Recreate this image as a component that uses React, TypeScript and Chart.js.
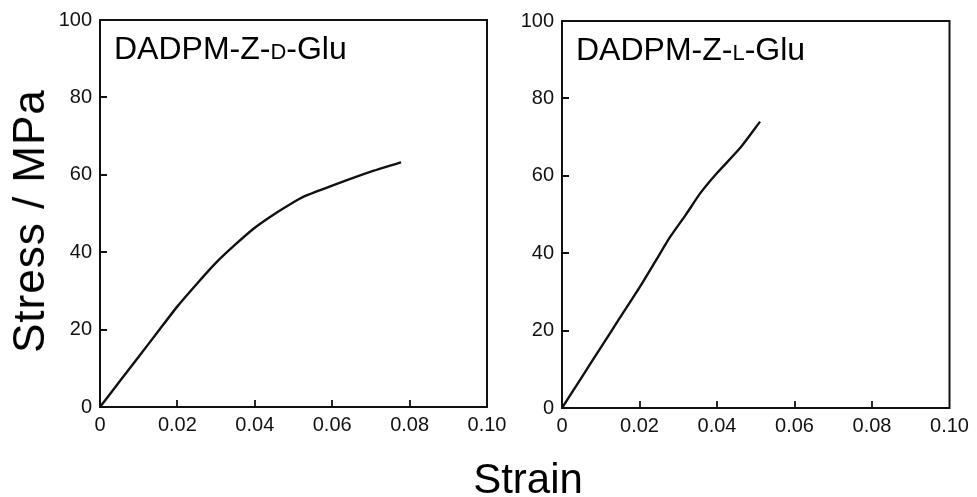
import React, { useEffect, useRef } from 'react';
import { Chart, registerables } from 'chart.js';

Chart.register(...registerables);

// ---- data ----
const strainD = [0, 0.005, 0.01, 0.015, 0.02, 0.025, 0.03, 0.035, 0.04, 0.045, 0.05, 0.0525, 0.06, 0.07, 0.0778];
const stressD = [0, 6.5, 13, 19.5, 26, 31.8, 37.3, 42, 46.3, 49.8, 52.9, 54.3, 57.2, 60.8, 63.2];

const strainL = [0, 0.005, 0.01, 0.015, 0.0201, 0.0244, 0.0279, 0.0322, 0.0356, 0.0399, 0.0459, 0.0511];
const stressL = [0, 7.8, 15.6, 23.4, 31.3, 38.4, 44.2, 50.3, 55.4, 60.6, 67.1, 74.0];

const titleD = ['DADPM-Z-', 'D', '-Glu'];
const titleL = ['DADPM-Z-', 'L', '-Glu'];

const xTicks = [0, 0.02, 0.04, 0.06, 0.08, 0.1];
const xTickLabels = ['0', '0.02', '0.04', '0.06', '0.08', '0.10'];
const yTicks = [0, 20, 40, 60, 80, 100];
const yTickLabels = ['0', '20', '40', '60', '80', '100'];

const yAxisTitle = 'Stress / MPa';
const xAxisTitle = 'Strain';

const FONT = '"Liberation Sans", Arial, Helvetica, sans-serif';

function makeChart(
  canvas: HTMLCanvasElement,
  strain: number[],
  stress: number[],
  title: string[],
  cfg: { top: number; right: number; yWidth: number; xHeight: number }
) {
  const framePlugin = {
    id: 'frameTitle',
    afterDraw(chart: any) {
      const { ctx, chartArea: a, scales } = chart;
      ctx.save();
      ctx.strokeStyle = '#111';
      ctx.lineWidth = 2;
      ctx.strokeRect(a.left, a.top, a.right - a.left, a.bottom - a.top);
      // inward tick marks
      ctx.lineWidth = 1.8;
      ctx.beginPath();
      const xs = scales.x;
      xs.ticks.forEach((t: any, i: number) => {
        if (i === 0 || i === xs.ticks.length - 1) return;
        const px = Math.round(xs.getPixelForValue(t.value));
        ctx.moveTo(px, a.bottom);
        ctx.lineTo(px, a.bottom - 7);
      });
      const ys = scales.y;
      ys.ticks.forEach((t: any, i: number) => {
        if (i === 0 || i === ys.ticks.length - 1) return;
        const py = Math.round(ys.getPixelForValue(t.value));
        ctx.moveTo(a.left, py);
        ctx.lineTo(a.left + 7, py);
      });
      ctx.stroke();
      // panel label with small-caps letter
      ctx.fillStyle = '#000';
      ctx.textAlign = 'left';
      ctx.textBaseline = 'alphabetic';
      let x = a.left + 14;
      const y = a.top + 38.5;
      title.forEach((part, i) => {
        ctx.font = (i === 1 ? '22px ' : '32px ') + FONT;
        ctx.fillText(part, x, y);
        x += ctx.measureText(part).width;
      });
      ctx.restore();
    },
  };

  return new Chart(canvas, {
    type: 'scatter',
    data: {
      datasets: [
        {
          data: strain.map((s, i) => ({ x: s, y: stress[i] })),
          showLine: true,
          borderColor: '#111',
          borderWidth: 2.4,
          pointRadius: 0,
          tension: 0.2,
          fill: false,
        },
      ],
    },
    plugins: [framePlugin],
    options: {
      animation: false,
      responsive: false,
      maintainAspectRatio: false,
      layout: { padding: { top: cfg.top, right: cfg.right, left: 0, bottom: 0 } },
      plugins: { legend: { display: false }, tooltip: { enabled: false }, title: { display: false } },
      scales: {
        x: {
          type: 'linear',
          min: 0,
          max: 0.1,
          afterFit: (s: any) => {
            s.height = cfg.xHeight;
          },
          afterBuildTicks: (s: any) => {
            s.ticks = xTicks.map((v) => ({ value: v }));
          },
          grid: { display: false, drawTicks: false },
          border: { display: false },
          ticks: {
            padding: 6,
            color: '#111',
            font: { family: FONT, size: 20 },
            maxRotation: 0,
            autoSkip: false,
            callback: (v: any) => {
              const idx = xTicks.findIndex((t) => Math.abs(t - Number(v)) < 1e-9);
              return idx >= 0 ? xTickLabels[idx] : '';
            },
          },
        },
        y: {
          type: 'linear',
          min: 0,
          max: 100,
          afterFit: (s: any) => {
            s.width = cfg.yWidth;
          },
          afterBuildTicks: (s: any) => {
            s.ticks = yTicks.map((v) => ({ value: v }));
          },
          grid: { display: false, drawTicks: false },
          border: { display: false },
          ticks: {
            padding: 8,
            color: '#111',
            font: { family: FONT, size: 20 },
            autoSkip: false,
            callback: (v: any) => {
              const idx = yTicks.indexOf(Number(v));
              return idx >= 0 ? yTickLabels[idx] : '';
            },
          },
        },
      },
    },
  } as any);
}

export default function App() {
  const leftRef = useRef<HTMLCanvasElement>(null);
  const rightRef = useRef<HTMLCanvasElement>(null);

  useEffect(() => {
    const c1 = makeChart(leftRef.current!, strainD, stressD, titleD, {
      top: 20,
      right: 33,
      yWidth: 100,
      xHeight: 90,
    });
    const c2 = makeChart(rightRef.current!, strainL, stressL, titleL, {
      top: 21,
      right: 27.5,
      yWidth: 42,
      xHeight: 89,
    });
    return () => {
      c1.destroy();
      c2.destroy();
    };
  }, []);

  return (
    <div
      style={{
        position: 'absolute',
        left: 0,
        top: 0,
        width: 977,
        height: 497,
        background: '#fff',
        overflow: 'hidden',
        fontFamily: FONT,
      }}
    >
      <canvas
        ref={leftRef}
        width={520}
        height={497}
        style={{ position: 'absolute', left: 0, top: 0, width: 520, height: 497 }}
      />
      <canvas
        ref={rightRef}
        width={457}
        height={497}
        style={{ position: 'absolute', left: 520, top: 0, width: 457, height: 497 }}
      />
      <div
        style={{
          position: 'absolute',
          left: 29,
          top: 221,
          transform: 'translate(-50%, -50%) rotate(-90deg)',
          whiteSpace: 'nowrap',
          fontSize: 44,
          letterSpacing: 1,
          lineHeight: 1,
          color: '#000',
        }}
      >
        {yAxisTitle}
      </div>
      <div
        style={{
          position: 'absolute',
          left: 528,
          top: 479,
          transform: 'translate(-50%, -50%)',
          whiteSpace: 'nowrap',
          fontSize: 42,
          lineHeight: 1,
          color: '#000',
        }}
      >
        {xAxisTitle}
      </div>
    </div>
  );
}
